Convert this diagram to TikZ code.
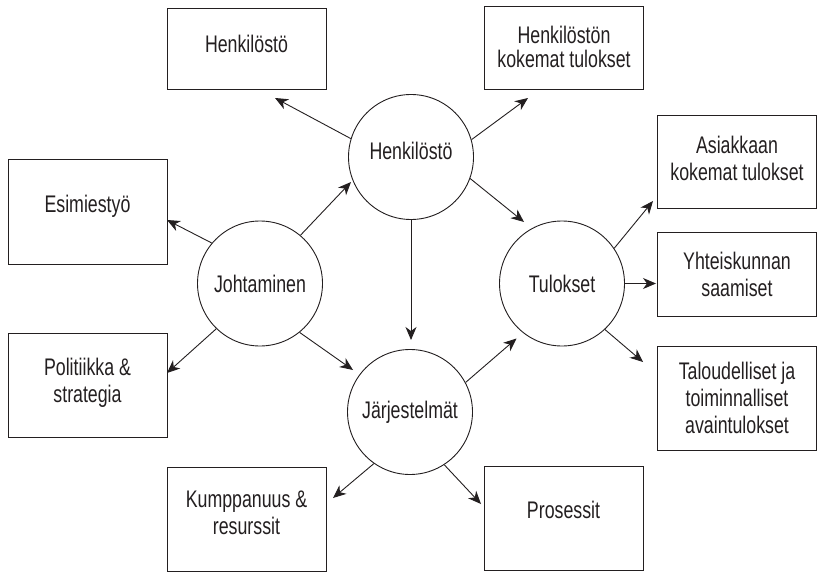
\documentclass[tikz,border=0pt]{standalone}
\usepackage{fontspec}
\setmainfont[FakeStretch=0.74]{Liberation Sans}
\usetikzlibrary{arrows.meta}
\definecolor{ink}{RGB}{35,31,32}
\begin{document}
\begin{tikzpicture}[x=1pt,y=-1pt,
  every node/.style={text=ink},
  box/.style={draw=ink, line width=0.9pt, minimum width=159pt, inner sep=0pt},
  hub/.style={draw=ink, circle, line width=0.9pt, minimum size=125pt, inner sep=2pt,
              font=\fontsize{24pt}{27pt}\selectfont},
  txt/.style={align=center, inner sep=0pt, font=\fontsize{24pt}{27pt}\selectfont},
  tighttxt/.style={txt, font=\fontsize{24pt}{24pt}\selectfont},
  arr/.style={draw=ink, line width=0.9pt, -{Stealth[length=13pt,width=11pt,inset=4pt]}}]

\useasboundingbox (0,0) rectangle (818,572);

% outer boxes
\node[box, minimum height=81pt]  (b1) at (246.5,48.5) {};
\node[box, minimum height=83pt]  (b2) at (564,47.5) {};
\node[box, minimum height=105pt] (b3) at (87.5,211.5) {};
\node[box, minimum height=104pt] (b4) at (87.5,385) {};
\node[box, minimum height=93pt]  (b5) at (737,161.5) {};
\node[box, minimum height=84pt]  (b6) at (737,274) {};
\node[box, minimum height=104pt] (b7) at (737,398) {};
\node[box, minimum height=104pt] (b8) at (246.5,519) {};
\node[box, minimum height=104pt] (b9) at (563.5,518) {};

% box captions
\node[txt]      (t1) at ([yshift=4.5pt]b1.center) {Henkilöstö};
\node[tighttxt] (t2) at ([yshift=0.5pt]b2.center) {Henkilöstön\\kokemat tulokset};
\node[txt]      (t3) at ([yshift=5.5pt]b3.center) {Esimiestyö};
\node[txt]      (t4) at ([yshift=2pt]b4.center)   {Politiikka \&\\strategia};
\node[txt]      (t5) at ([yshift=3.5pt]b5.center) {Asiakkaan\\kokemat tulokset};
\node[txt]      (t6) at (b6.center)               {Yhteiskunnan\\saamiset};
\node[txt]      (t7) at (b7.center)               {Taloudelliset ja\\toiminnalliset\\avaintulokset};
\node[txt]      (t8) at ([yshift=6pt]b8.center)   {Kumppanuus \&\\resurssit};
\node[txt]      (t9) at ([yshift=8pt]b9.center)   {Prosessit};

% hubs
\node[hub, text depth=12pt] (hc) at (411,157)   {Henkilöstö};
\node[hub] (jc) at (260,283.5) {Johtaminen};
\node[hub] (tc) at (562,283.5) {Tulokset};
\node[hub] (sc) at (410,412)   {Järjestelmät};

% arrow tips
\coordinate (a1)  at (275,98);
\coordinate (a2)  at (528,98);
\coordinate (a3)  at (524,222);
\coordinate (a4)  at (351,182);
\coordinate (a5)  at (411,340);
\coordinate (a6)  at (167,220);
\coordinate (a7)  at (167,373);
\coordinate (a8)  at (353,370);
\coordinate (a9)  at (516.5,338.5);
\coordinate (a10) at (653,201);
\coordinate (a11) at (656,283.5);
\coordinate (a12) at (643,362);
\coordinate (a13) at (333,498);
\coordinate (a14) at (481,504);

% connectors
\draw[arr] (hc.163)   -- (a1);
\draw[arr] (hc.16.5)  -- (a2);
\draw[arr] (hc.340.6) -- (a3);
\draw[arr] (jc.50.4)  -- (a4);
\draw[arr] (hc.south) -- (a5);
\draw[arr] (jc.140.8) -- (a6);
\draw[arr] (jc.226)   -- (a7);
\draw[arr] (jc.309.1) -- (a8);
\draw[arr] (sc.28.8)  -- (a9);
\draw[arr] (tc.34.3)  -- (a10);
\draw[arr] (tc.east)  -- (a11);
\draw[arr] (tc.313.9) -- (a12);
\draw[arr] (sc.235.4) -- (a13);
\draw[arr] (sc.303.1) -- (a14);
\end{tikzpicture}
\end{document}
